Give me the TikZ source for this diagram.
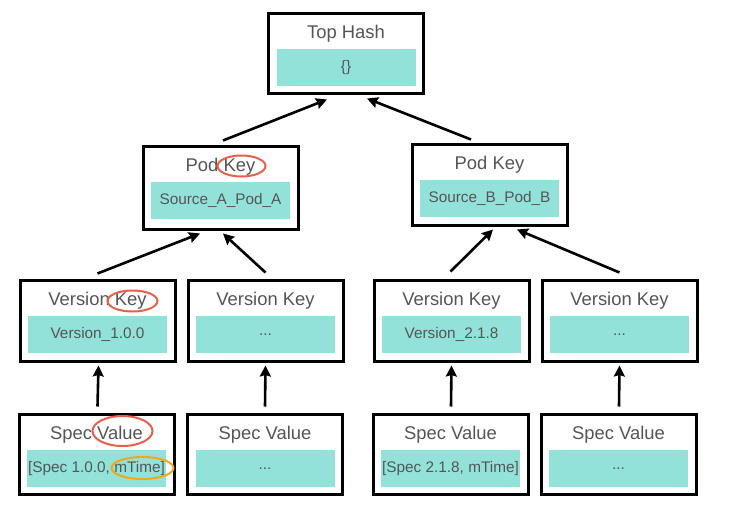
\documentclass[tikz,border=0pt]{standalone}
\usepackage{fontspec}
\setmainfont{Liberation Sans}
\usetikzlibrary{calc,arrows.meta}
\def\px{0.75pt}
\definecolor{tealfill}{HTML}{93E2DA}
\definecolor{txtgray}{HTML}{555555}
\definecolor{ringred}{HTML}{E8604C}
\definecolor{ringorange}{HTML}{F0A818}
\tikzset{
  boxframe/.style={draw=black, line width=3*\px, fill=white, minimum width=155*\px, minimum height=81*\px, inner sep=0pt},
  ttltext/.style={text=txtgray, font=\fontsize{13.8}{16}\selectfont, inner sep=0pt},
  tealbar/.style={fill=tealfill, minimum width=139*\px, minimum height=37*\px, inner sep=0pt, text=txtgray, font=\fontsize{11.5}{14}\selectfont},
  arr/.style={line width=2.6*\px, -{Stealth[length=11*\px, width=11*\px, inset=1.5*\px]}},
  ring/.style={line width=2*\px}
}
\newcommand{\hashnode}[5]{%
  \node[boxframe, minimum height=#5*\px] (#1) at (#2) {};
  \node[ttltext] (#1t) at ($(#1.north)+(0,22)$) {#3};
  \node[tealbar] (#1c) at ($(#1.north)+(0,56)$) {#4};
}
\begin{document}
\begin{tikzpicture}[x=0.75pt, y=-0.75pt]
\useasboundingbox (0,0) rectangle (729,511);
\hashnode{top}{346,53}{Top Hash}{\{\}}{80}
\hashnode{podA}{220.5,187.5}{Pod Key}{Source\_A\_Pod\_A}{83}
\hashnode{podB}{489.5,184.5}{Pod Key}{Source\_B\_Pod\_B}{81}
\hashnode{vA}{97.5,320.5}{Version Key}{Version\_1.0.0}{81}
\hashnode{vB}{265.5,320.5}{Version Key}{...}{81}
\hashnode{vC}{451.5,320.5}{Version Key}{Version\_2.1.8}{81}
\hashnode{vD}{619.5,320.5}{Version Key}{...}{81}
\hashnode{sA}{96.5,454}{Spec Value}{[Spec 1.0.0, mTime]}{80}
\hashnode{sB}{265,454}{Spec Value}{...}{80}
\hashnode{sC}{450.5,454}{Spec Value}{[Spec 2.1.8, mTime]}{80}
\hashnode{sD}{618.5,454}{Spec Value}{...}{80}
% connectors
\draw[arr] ($(podA.north)+(2.5,-4)$) -- ($(top.south)+(-19,5)$);
\draw[arr] ($(podB.north)+(-18.5,-3)$) -- ($(top.south)+(21,4)$);
\draw[arr] ($(vA.north)+(0,-5)$) -- ($(podA.south)+(-20.5,3)$);
\draw[arr] ($(vB.north)+(0,-6)$) -- ($(podA.south)+(2.5,3)$);
\draw[arr] ($(vC.north)+(-1,-7)$) -- ($(podB.south)+(3.5,3)$);
\draw[arr] ($(vD.north)+(0,-6)$) -- ($(podB.south)+(27.5,3)$);
\draw[arr] ($(sA.north)+(1,-6)$) -- ($(vA.south)+(1,3)$);
\draw[arr] ($(sB.north)+(0,-6)$) -- ($(vB.south)+(0,3)$);
\draw[arr] ($(sC.north)+(0.5,-6)$) -- ($(vC.south)+(0,3)$);
\draw[arr] ($(sD.north)+(0.5,-6)$) -- ($(vD.south)+(0,3)$);
% highlight rings
\draw[ring, ringred] (241.5,166) ellipse [x radius=24*\px, y radius=10.5*\px];
\draw[ring, ringred] (132.5,301) ellipse [x radius=25*\px, y radius=10.5*\px];
\draw[ring, ringred] (122.5,431) ellipse [x radius=30*\px, y radius=15*\px];
\draw[ring, ringorange] (142.5,468) ellipse [x radius=31*\px, y radius=11*\px];
\end{tikzpicture}
\end{document}
